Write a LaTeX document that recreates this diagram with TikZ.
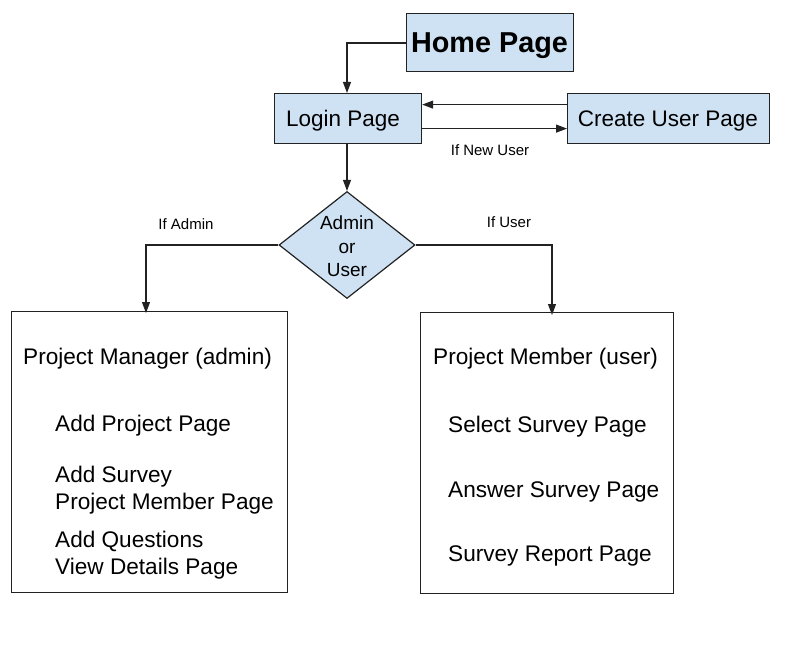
\documentclass[tikz,border=0pt]{standalone}
\usepackage{fontspec}
\setmainfont{Liberation Sans}
\usetikzlibrary{shapes.geometric,arrows.meta}
\definecolor{boxblue}{HTML}{CFE2F3}
\definecolor{edge}{HTML}{222222}
\begin{document}
\begin{tikzpicture}[x=1pt,y=-1pt,
  pagebox/.style={draw=edge,line width=1.2pt,fill=boxblue,inner sep=0pt,anchor=north west},
  bigbox/.style={draw=edge,line width=1.2pt,fill=white,inner sep=0pt,anchor=north west},
  conn/.style={draw=edge,line width=1.1pt,-{Triangle[length=11pt,width=8pt]}},
  lbl/.style={inner sep=0pt,yshift=-1.5pt,font=\fontsize{15}{18}\selectfont},
  item/.style={inner sep=0pt,anchor=west,yshift=-2.5pt,font=\fontsize{22.6}{27}\selectfont}]
\useasboundingbox (0,0) rectangle (785,669);
% top boxes
\node[pagebox,minimum width=167pt,minimum height=58pt] (home) at (406,13) {};
\node[inner sep=0pt,yshift=-3pt,font=\fontsize{28.8}{32}\selectfont\bfseries] at (489.5,43) {Home Page};
\node[pagebox,minimum width=147pt,minimum height=50pt] (login) at (274,93) {};
\node[inner sep=0pt,yshift=-2.5pt,font=\fontsize{22.5}{26}\selectfont] at (343,118) {Login Page};
\node[pagebox,minimum width=202pt,minimum height=50pt] (create) at (567,93) {};
\node[inner sep=0pt,yshift=-2.5pt,font=\fontsize{22.5}{26}\selectfont] at (668,118) {Create User Page};
% diamond
\node[diamond,draw=edge,line width=1.2pt,fill=boxblue,minimum width=136pt,minimum height=107pt,inner sep=0pt] (dec) at (347,245) {};
\node[inner sep=0pt,yshift=-1.5pt,align=center,font=\fontsize{19}{23.5}\selectfont] at (347,245) {Admin\\or\\User};
% big boxes
\node[bigbox,minimum width=276pt,minimum height=281pt] (pm) at (11,311) {};
\node[bigbox,minimum width=253pt,minimum height=281pt] (pu) at (420,312) {};
% coordinates
\coordinate (h1) at (347,43);
\coordinate (l1) at (146,245);
\coordinate (r1) at (552,245);
% connectors
\draw[conn] (home.west |- h1) -- (h1) -- (login.north -| h1);
\draw[conn] ([yshift=14pt]create.west) -- ([yshift=14pt]login.east);
\draw[conn] ([yshift=-10pt]login.east) -- ([yshift=-10pt]create.west);
\draw[conn] (login.south -| h1) -- (dec.north);
\draw[conn] (dec.west) -- (l1) -- ([yshift=-2pt]pm.north -| l1);
\draw[conn] (dec.east) -- (r1) -- ([yshift=-3pt]pu.north -| r1);
% labels
\node[lbl] at (490,149) {If New User};
\node[lbl] at (186,223) {If Admin};
\node[lbl] at (509,221) {If User};
% admin box texts
\node[item] at (23,356) {Project Manager (admin)};
\node[item] at (55,423) {Add Project Page};
\node[item] at (55,474) {Add Survey};
\node[item] at (55,501) {Project Member Page};
\node[item] at (55,539) {Add Questions};
\node[item] at (55,566) {View Details Page};
% user box texts
\node[item] at (433,356) {Project Member (user)};
\node[item] at (448,424) {Select Survey Page};
\node[item] at (448,489) {Answer Survey Page};
\node[item] at (448,553) {Survey Report Page};
\end{tikzpicture}
\end{document}
